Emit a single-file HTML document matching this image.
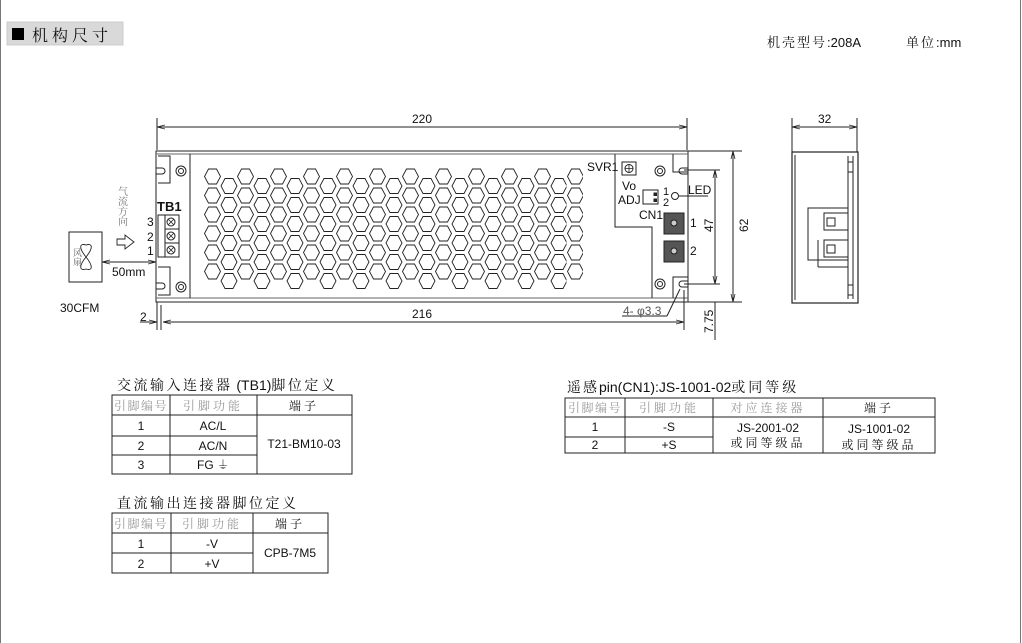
<!DOCTYPE html>
<html><head><meta charset="utf-8"><style>
html,body{margin:0;padding:0;background:#fff;}
body{width:1022px;height:643px;overflow:hidden;position:relative;}
svg{position:absolute;left:0;top:0;}
text{font-family:"Liberation Sans","Noto Serif CJK SC",serif;fill:#111;}
.cj{font-family:"Liberation Sans","Noto Serif CJK SC",serif;}
</style></head><body>
<svg width="1022" height="643" viewBox="0 0 1022 643">
<defs>
<pattern id="hp" x="204" y="167" width="33" height="19" patternUnits="userSpaceOnUse">
<polygon points="0.5,9.5 4.5,2 12.5,2 16.5,9.5 12.5,17 4.5,17" fill="none" stroke="#222" stroke-width="0.9"/>
</pattern>
<pattern id="hp2" x="220.5" y="176.5" width="33" height="19" patternUnits="userSpaceOnUse">
<polygon points="0.5,9.5 4.5,2 12.5,2 16.5,9.5 12.5,17 4.5,17" fill="none" stroke="#222" stroke-width="0.9"/>
</pattern>
<marker id="ar" markerWidth="8" markerHeight="6" refX="8" refY="3" orient="auto"><path d="M0,1 L8,3 L0,5" fill="none" stroke="#222" stroke-width="0.8"/></marker>
</defs>
<line x1="0.5" y1="0" x2="0.5" y2="643" stroke="#777"/>
<line x1="1020.5" y1="0" x2="1020.5" y2="643" stroke="#777"/>
<rect x="7" y="22" width="116" height="23" fill="#d9d9d9" stroke="#ccc"/>
<rect x="12" y="28" width="12" height="12" fill="#000"/>
<text x="32" y="41" font-size="16" class="cj" letter-spacing="4">机构尺寸</text>
<text x="767" y="47" font-size="13" class="cj"><tspan letter-spacing="2">机壳型号</tspan>:208A</text>
<text x="906" y="47" font-size="13" class="cj"><tspan letter-spacing="2">单位</tspan>:mm</text>

<g stroke="#222" fill="none" stroke-width="1">
<line x1="157" y1="118" x2="157" y2="150"/><line x1="687" y1="118" x2="687" y2="150"/>
<line x1="157" y1="127" x2="687" y2="127" marker-end="url(#ar)"/>
<line x1="687" y1="127" x2="157" y2="127" marker-end="url(#ar)"/>
<rect x="156" y="151" width="532" height="151"/>
<line x1="156" y1="154" x2="688" y2="154" stroke="#666"/>
<line x1="156" y1="298" x2="688" y2="298" stroke="#666"/>
<line x1="190" y1="154" x2="190" y2="298"/>
<path d="M158,156 H170 V183 H158"/><path d="M158,267 H170 V295 H158"/>
<circle cx="181" cy="171" r="5"/><circle cx="181" cy="171" r="2.5"/>
<circle cx="181" cy="287" r="5"/><circle cx="181" cy="287" r="2.5"/>
<path d="M156,168 h6 a3,3 0 0 1 0,6 h-6"/><path d="M156,283 h6 a3,3 0 0 1 0,6 h-6"/>
<rect x="158" y="215" width="21" height="42"/>
<line x1="165" y1="215" x2="165" y2="257"/>
<line x1="165" y1="229" x2="179" y2="229"/><line x1="165" y1="243" x2="179" y2="243"/>
<circle cx="171" cy="222" r="4"/><circle cx="171" cy="236" r="4"/><circle cx="171" cy="250" r="4"/>
<path d="M168,219 l6,6 M174,219 l-6,6 M168,233 l6,6 M174,233 l-6,6 M168,247 l6,6 M174,247 l-6,6" stroke-width="0.8"/>
<rect x="204" y="167" width="379" height="114" fill="url(#hp)" stroke="none"/>
<rect x="220.5" y="176.5" width="346" height="114" fill="url(#hp2)" stroke="none"/>
<path d="M615,154 V227 H652 V298"/>
<rect x="622" y="162" width="14" height="13"/><circle cx="629" cy="168.5" r="4"/>
<path d="M625,168.5 h8 M629,164.5 v8" stroke-width="0.8"/>
<circle cx="660" cy="171" r="5"/><circle cx="660" cy="171" r="2.5"/>
<circle cx="660" cy="284" r="5"/><circle cx="660" cy="284" r="2.5"/>
<path d="M673,154 V172 H688"/><path d="M673,298 V277 H688"/>
<path d="M688,168 h-6 a3,3 0 0 0 0,6 h6"/><path d="M688,281 h-6 a3,3 0 0 0 0,6 h6"/>
<rect x="643" y="190" width="15" height="14"/>
<rect x="654" y="193" width="2.5" height="2.5" fill="#222"/><rect x="654" y="199" width="2.5" height="2.5" fill="#222"/>
<circle cx="675" cy="196" r="3.5"/>
<line x1="679" y1="196" x2="708" y2="196"/>
<rect x="664" y="213" width="20" height="21" fill="#555" stroke="#222"/>
<rect x="664" y="241" width="20" height="21" fill="#555" stroke="#222"/>
<circle cx="674" cy="223" r="3" fill="#ccc"/><circle cx="674" cy="251" r="3" fill="#ccc"/>
<line x1="688" y1="151" x2="742" y2="151"/><line x1="688" y1="302" x2="742" y2="302"/>
<line x1="733" y1="151" x2="733" y2="302" marker-end="url(#ar)"/><line x1="733" y1="302" x2="733" y2="151" marker-end="url(#ar)"/>
<line x1="684" y1="170" x2="720" y2="170"/><line x1="684" y1="284" x2="720" y2="284"/>
<line x1="715" y1="170" x2="715" y2="284" marker-end="url(#ar)"/><line x1="715" y1="284" x2="715" y2="170" marker-end="url(#ar)"/>
<line x1="715" y1="302" x2="715" y2="340"/>
<line x1="161" y1="305" x2="161" y2="330"/><line x1="684" y1="290" x2="684" y2="330"/>
<line x1="157" y1="302" x2="157" y2="330"/>
<line x1="165" y1="322" x2="684" y2="322" marker-end="url(#ar)"/>
<line x1="684" y1="322" x2="163" y2="322" marker-end="url(#ar)"/>
<line x1="140" y1="322" x2="157" y2="322" marker-end="url(#ar)"/>
<line x1="622" y1="316" x2="667" y2="316"/><line x1="667" y1="316" x2="680" y2="289"/>
<rect x="69" y="232" width="33" height="50"/>
<path d="M86,257 C78,247 80,243 86,245 C92,243 94,247 86,257 C78,267 80,271 86,269 C92,271 94,267 86,257 Z" stroke-width="0.9"/>
<line x1="102" y1="262" x2="156" y2="262" marker-end="url(#ar)"/><line x1="156" y1="262" x2="102" y2="262" marker-end="url(#ar)"/>
<path d="M117,239 h8 v-4 l9,7 l-9,7 v-4 h-8 z" stroke-width="0.9"/>
<line x1="792" y1="118" x2="792" y2="152"/><line x1="857" y1="118" x2="857" y2="152"/>
<line x1="792" y1="127" x2="857" y2="127" marker-end="url(#ar)"/><line x1="857" y1="127" x2="792" y2="127" marker-end="url(#ar)"/>
<rect x="792" y="152" width="66" height="151" stroke-width="1.2"/>
<line x1="795" y1="155" x2="795" y2="300"/>
<line x1="848" y1="156" x2="848" y2="299"/><line x1="853" y1="156" x2="853" y2="299"/>
<rect x="848" y="162" width="5" height="10"/><rect x="848" y="285" width="5" height="10"/>
<rect x="808" y="208" width="40" height="52"/>
<rect x="824" y="213" width="24" height="17"/><rect x="824" y="240" width="24" height="17"/>
<rect x="827" y="218" width="8" height="8"/><rect x="827" y="245" width="8" height="8"/>
<line x1="818" y1="240" x2="818" y2="267"/><line x1="818" y1="267" x2="848" y2="267"/>
</g>
<text x="121" y="186" font-size="10" class="cj" writing-mode="tb" style="fill:#777">气流方向</text>
<text x="77" y="248" font-size="9" class="cj" writing-mode="tb" style="fill:#666">风扇</text>
<text x="112" y="276" font-size="12">50mm</text>
<text x="60" y="312" font-size="12">30CFM</text>
<text x="157" y="211" font-size="13" font-weight="bold">TB1</text>
<text x="147" y="226" font-size="12">3</text><text x="147" y="241" font-size="12">2</text><text x="147" y="255" font-size="12">1</text>
<text x="412" y="123" font-size="12">220</text>
<text x="412" y="318" font-size="12">216</text>
<text x="140" y="321" font-size="12">2</text>
<text x="623" y="315" font-size="12" style="fill:#555">4- φ3.3</text>
<text x="587" y="171" font-size="12">SVR1</text>
<text x="622" y="190" font-size="12">Vo</text>
<text x="618" y="204" font-size="12">ADJ</text>
<text x="663" y="195" font-size="11">1</text><text x="663" y="206" font-size="11">2</text>
<text x="688" y="194" font-size="12">LED</text>
<text x="639" y="219" font-size="12">CN1</text>
<text x="690" y="227" font-size="12">1</text><text x="690" y="255" font-size="12">2</text>
<text x="713" y="232" font-size="12" transform="rotate(-90 713 232)">47</text>
<text x="748" y="232" font-size="12" transform="rotate(-90 748 232)">62</text>
<text x="713" y="333" font-size="12" transform="rotate(-90 713 333)">7.75</text>
<text x="818" y="123" font-size="12">32</text>

<text x="117" y="390" font-size="14" class="cj"><tspan letter-spacing="2.5">交流输入连接器</tspan> (TB1)<tspan letter-spacing="2.5">脚位定义</tspan></text>
<g stroke="#222" fill="none" stroke-width="1">
<rect x="112" y="395" width="240" height="79"/>
<line x1="170" y1="395" x2="170" y2="474"/><line x1="257" y1="395" x2="257" y2="474"/>
<line x1="112" y1="415" x2="352" y2="415"/>
<line x1="112" y1="436" x2="257" y2="436"/><line x1="112" y1="455" x2="257" y2="455"/>
<rect x="112" y="513" width="216" height="60"/>
<line x1="171" y1="513" x2="171" y2="573"/><line x1="253" y1="513" x2="253" y2="573"/>
<line x1="112" y1="533" x2="328" y2="533"/><line x1="112" y1="553" x2="253" y2="553"/>
<rect x="565" y="398" width="370" height="55"/>
<line x1="625" y1="398" x2="625" y2="453"/><line x1="713" y1="398" x2="713" y2="453"/><line x1="823" y1="398" x2="823" y2="453"/>
<line x1="565" y1="417" x2="935" y2="417"/><line x1="565" y1="437" x2="713" y2="437"/>
</g>
<g font-size="12" text-anchor="middle">
<text x="141" y="410" class="cj" letter-spacing="1.5" style="fill:#999">引脚编号</text>
<text x="213" y="410" class="cj" letter-spacing="3" style="fill:#999">引脚功能</text>
<text x="304" y="410" class="cj" letter-spacing="3">端子</text>
<text x="141" y="430">1</text><text x="213" y="430">AC/L</text>
<text x="141" y="450">2</text><text x="213" y="450">AC/N</text>
<text x="141" y="469">3</text><text x="213" y="469">FG ⏚</text>
<text x="304" y="448">T21-BM10-03</text>
<text x="141" y="528" class="cj" letter-spacing="1.5" style="fill:#999">引脚编号</text>
<text x="212" y="528" class="cj" letter-spacing="3" style="fill:#999">引脚功能</text>
<text x="290" y="528" class="cj" letter-spacing="3">端子</text>
<text x="141" y="548">1</text><text x="212" y="548">-V</text>
<text x="141" y="568">2</text><text x="212" y="568">+V</text>
<text x="290" y="557">CPB-7M5</text>
<text x="595" y="412" class="cj" letter-spacing="1.5" style="fill:#999">引脚编号</text>
<text x="669" y="412" class="cj" letter-spacing="3" style="fill:#999">引脚功能</text>
<text x="768" y="412" class="cj" letter-spacing="3" style="fill:#999">对应连接器</text>
<text x="879" y="412" class="cj" letter-spacing="3">端子</text>
<text x="595" y="431">1</text><text x="669" y="431">-S</text>
<text x="595" y="449">2</text><text x="669" y="449">+S</text>
<text x="768" y="432">JS-2001-02</text><text x="768" y="447" class="cj" letter-spacing="3">或同等级品</text>
<text x="879" y="433">JS-1001-02</text><text x="879" y="449" class="cj" letter-spacing="3">或同等级品</text>
</g>
<text x="117" y="508" font-size="14" class="cj" letter-spacing="2.5">直流输出连接器脚位定义</text>
<text x="567" y="392" font-size="14" class="cj"><tspan letter-spacing="2">遥感</tspan>pin(CN1):JS-1001-02<tspan letter-spacing="3">或同等级</tspan></text>
</svg>
</body></html>
